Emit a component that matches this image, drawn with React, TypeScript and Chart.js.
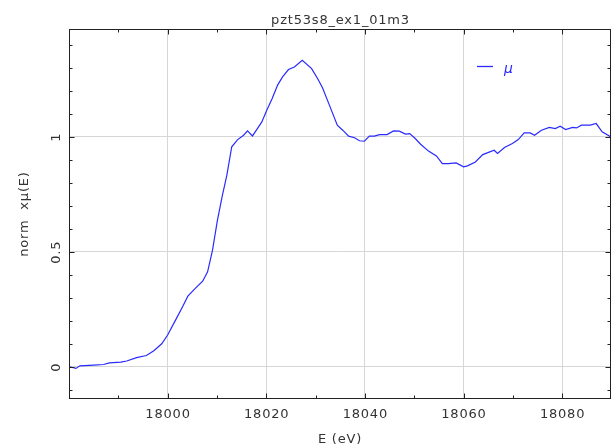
import React, { useEffect, useRef } from "react";
import { Chart, registerables } from "chart.js";

Chart.register(...registerables);

const energy = [
  17980.1, 17981.4, 17982.2, 17985.0, 17987.0, 17988.2, 17990.5, 17991.7, 17993.7, 17995.7,
  17997.2, 17998.8, 18000.0, 18001.6, 18003.0, 18004.1, 18005.5, 18007.1, 18008.1, 18009.1,
  18010.1, 18011.1, 18012.0, 18013.0, 18014.2, 18015.4, 18016.2, 18017.2, 18018.2, 18019.1,
  18020.1, 18021.2, 18022.3, 18023.3, 18024.5, 18025.7, 18027.3, 18029.2, 18030.4, 18031.4,
  18032.8, 18034.4, 18035.5, 18036.7, 18037.9, 18038.9, 18039.9, 18040.9, 18041.9, 18043.0,
  18044.5, 18045.8, 18047.0, 18048.2, 18049.1, 18050.2, 18051.3, 18052.9, 18054.5, 18055.7,
  18056.9, 18058.5, 18060.0, 18060.8, 18062.4, 18063.9, 18066.2, 18066.9, 18068.3, 18069.9,
  18071.1, 18072.3, 18073.5, 18074.4, 18075.8, 18077.4, 18078.6, 18079.6, 18080.7, 18082.1,
  18082.9, 18083.9, 18085.7, 18086.9, 18088.1, 18089.9,
];

const mu = [
  0.0, -0.007, 0.004, 0.007, 0.01, 0.017, 0.02, 0.025, 0.04, 0.049,
  0.07, 0.1, 0.138, 0.203, 0.26, 0.307, 0.339, 0.372, 0.413, 0.507,
  0.638, 0.746, 0.833, 0.957, 0.988, 1.007, 1.026, 1.004, 1.036, 1.065,
  1.116, 1.167, 1.225, 1.261, 1.293, 1.304, 1.333, 1.297, 1.254, 1.214,
  1.138, 1.051, 1.029, 1.003, 0.996, 0.983, 0.981, 1.003, 1.003, 1.01,
  1.01, 1.026, 1.025, 1.012, 1.014, 0.993, 0.968, 0.938, 0.917, 0.884,
  0.884, 0.887, 0.87, 0.874, 0.891, 0.923, 0.942, 0.928, 0.954, 0.971,
  0.988, 1.017, 1.017, 1.007, 1.029, 1.041, 1.036, 1.046, 1.032, 1.041,
  1.039, 1.051, 1.051, 1.058, 1.022, 1.0,
];

const xRange = [17980.1, 18089.8];
const yRange = [-0.138, 1.467];
const xMajorTicks = [18000, 18020, 18040, 18060, 18080];
const xTickLabels = ["18000", "18020", "18040", "18060", "18080"];
const xMinorTicks = [17990, 18010, 18030, 18050, 18070];
const yMajorTicks = [0, 0.5, 1];
const yTickLabels = ["0", "0.5", "1"];
const yMinorTicks = [-0.1, 0.1, 0.2, 0.3, 0.4, 0.6, 0.7, 0.8, 0.9, 1.1, 1.2, 1.3, 1.4];

const titleText = "pzt53s8_ex1_01m3";
const xTitle = "E (eV)";
const yTitle = "norm  xμ(E)";
const legendLabel = "μ";

const LINE_COLOR = "#2a2aff";
const TEXT_COLOR = "#333333";
const FONT = '13px "DejaVu Sans"';

const framePlugin = {
  id: "framePlugin",
  afterDatasetsDraw(chart: any) {
    const ctx = chart.ctx as CanvasRenderingContext2D;
    const { left, right, top, bottom } = chart.chartArea;
    const xs = chart.scales.x;
    const ys = chart.scales.y;
    ctx.save();
    // frame
    ctx.strokeStyle = "#222222";
    ctx.lineWidth = 1;
    ctx.strokeRect(left, top, right - left, bottom - top);
    // ticks
    ctx.beginPath();
    const major = 5;
    const minor = 3;
    const xt = (v: number, len: number) => {
      const p = Math.round(xs.getPixelForValue(v)) + 0.5;
      ctx.moveTo(p, bottom);
      ctx.lineTo(p, bottom - len);
      ctx.moveTo(p, top);
      ctx.lineTo(p, top + len);
    };
    const yt = (v: number, len: number) => {
      const p = Math.round(ys.getPixelForValue(v)) + 0.5;
      ctx.moveTo(left, p);
      ctx.lineTo(left + len, p);
      ctx.moveTo(right, p);
      ctx.lineTo(right - len, p);
    };
    xMajorTicks.forEach((v) => xt(v, major));
    xMinorTicks.forEach((v) => xt(v, minor));
    yMajorTicks.forEach((v) => yt(v, major));
    yMinorTicks.forEach((v) => yt(v, minor));
    ctx.stroke();

    // labels
    ctx.fillStyle = TEXT_COLOR;
    ctx.font = FONT;
    (ctx as any).letterSpacing = "0.8px";
    ctx.textAlign = "center";
    ctx.textBaseline = "alphabetic";
    xMajorTicks.forEach((v, i) => {
      ctx.fillText(xTickLabels[i], xs.getPixelForValue(v) + 0.4, bottom + 19);
    });
    yMajorTicks.forEach((v, i) => {
      ctx.save();
      ctx.translate(59.5, ys.getPixelForValue(v) + 0.4);
      ctx.rotate(-Math.PI / 2);
      ctx.fillText(yTickLabels[i], 0, 0);
      ctx.restore();
    });
    // title
    ctx.fillText(titleText, (left + right) / 2 + 0.5, 24);
    // x title
    ctx.fillText(xTitle, (left + right) / 2, 443);
    // y title
    ctx.save();
    ctx.translate(27.5, (top + bottom) / 2);
    ctx.rotate(-Math.PI / 2);
    ctx.fillText(yTitle, 0, 0);
    ctx.restore();

    // legend
    ctx.strokeStyle = LINE_COLOR;
    ctx.lineWidth = 1.3;
    ctx.beginPath();
    ctx.moveTo(477, 66.5);
    ctx.lineTo(493, 66.5);
    ctx.stroke();
    ctx.fillStyle = LINE_COLOR;
    ctx.font = 'italic 14px "DejaVu Sans"';
    ctx.textAlign = "left";
    ctx.fillText(legendLabel, 504, 73);
    ctx.restore();
  },
};

export default function App() {
  const ref = useRef<HTMLCanvasElement>(null);
  useEffect(() => {
    if (!ref.current) return;
    const chart = new Chart(ref.current, {
      type: "line",
      data: {
        datasets: [
          {
            label: legendLabel,
            data: energy.map((x, i) => ({ x, y: mu[i] })),
            borderColor: LINE_COLOR,
            borderWidth: 1.2,
            pointRadius: 0,
            tension: 0,
            fill: false,
          },
        ],
      },
      options: {
        animation: false,
        responsive: false,
        layout: { padding: { left: 69.5, right: 0.5, top: 29.5, bottom: 49.5 } },
        plugins: {
          legend: { display: false },
          title: { display: false },
          tooltip: { enabled: false },
        },
        scales: {
          x: {
            type: "linear",
            min: xRange[0],
            max: xRange[1],
            ticks: { display: false, stepSize: 20 },
            afterBuildTicks: (s: any) => {
              s.ticks = xMajorTicks.map((v) => ({ value: v }));
            },
            afterFit: (s: any) => {
              s.height = 0;
            },
            grid: { color: "#d6d6d6", lineWidth: 1, drawTicks: false },
            border: { display: false },
          },
          y: {
            type: "linear",
            min: yRange[0],
            max: yRange[1],
            ticks: { display: false, stepSize: 0.5 },
            afterBuildTicks: (s: any) => {
              s.ticks = yMajorTicks.map((v) => ({ value: v }));
            },
            afterFit: (s: any) => {
              s.width = 0;
            },
            grid: { color: "#d6d6d6", lineWidth: 1, drawTicks: false },
            border: { display: false },
          },
        },
      },
      plugins: [framePlugin],
    });
    return () => chart.destroy();
  }, []);
  return (
    <div style={{ position: "fixed", left: 0, top: 0, width: 611, height: 448, background: "#fff" }}>
      <canvas ref={ref} width={611} height={448} style={{ display: "block" }} />
    </div>
  );
}
